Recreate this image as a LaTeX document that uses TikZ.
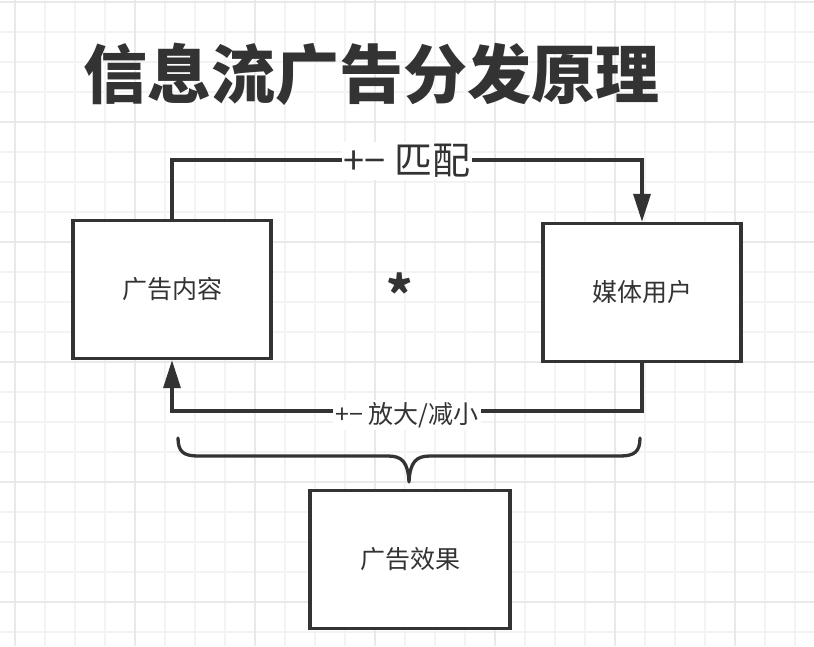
\documentclass[tikz,border=0pt]{standalone}
\usepackage{fontspec}
\newfontfamily\cjk{Noto Sans CJK SC}
\usetikzlibrary{arrows.meta}
\definecolor{ink}{HTML}{333333}
\definecolor{gridminor}{HTML}{F3F3F3}
\definecolor{gridmajor}{HTML}{E9E9E9}
\tikzset{
  boxnode/.style={draw=ink, line width=3.3pt, fill=white, minimum width=198pt, minimum height=138pt, inner sep=0pt, text=ink, font=\cjk\fontsize{25}{30}\selectfont},
  conn/.style={draw=ink, line width=3.3pt},
  tip/.style={-{Triangle[length=28pt,width=17pt]}},
  lbl/.style={fill=white, text=ink, inner sep=2pt},
}
\begin{document}
\begin{tikzpicture}[x=1pt,y=-1pt]
\useasboundingbox (0,0) rectangle (814,646);
\fill[white] (0,0) rectangle (814,646);
% grid
\foreach \x in {15,45,...,814} \draw[gridminor, line width=1.2pt] (\x,0) -- (\x,646);
\foreach \y in {2,32,...,646} \draw[gridminor, line width=1.2pt] (0,\y) -- (814,\y);
\foreach \x in {15,135,...,814} \draw[gridmajor, line width=1.6pt] (\x,0) -- (\x,646);
\foreach \y in {2,122,...,646} \draw[gridmajor, line width=1.6pt] (0,\y) -- (814,\y);

% title
\node[anchor=west, text=ink, inner sep=0pt, font=\cjk\bfseries\fontsize{64}{70}\selectfont] (title) at (83,74) {信息流广告分发原理};

% boxes
\node[boxnode] (content) at (172,289.5) {广告内容};
\node[boxnode] (user) at (642,292.5) {媒体用户};
\node[boxnode, minimum width=200pt] (effect) at (410,559.5) {广告效果};

% asterisk
\node[text=ink, inner sep=0pt, font=\cjk\bfseries\fontsize{50}{50}\selectfont] (star) at (400,293) {*};

% top connector
\coordinate (t1) at (172,160);
\coordinate (t2) at (642,160);
\draw[conn, tip] (content.north) -- (t1) -- node[lbl, font=\cjk\fontsize{38}{44}\selectfont, yshift=-1pt] (toplbl) {+− 匹配} (t2) -- (user.north);

% bottom connector
\coordinate (b1) at (642,411);
\coordinate (b2) at (172,411);
\draw[conn, tip] (user.south) -- (b1) -- node[lbl, font=\cjk\fontsize{25}{30}\selectfont, yshift=-4pt] (botlbl) {+− 放大/减小} (b2) -- (content.south);

% brace
\coordinate (brL) at (178,438);
\coordinate (brR) at (640,438);
\coordinate (brM) at (409,482);
\draw[conn, line cap=round, line join=round]
  (brL) .. controls (178,452) and (184,456) .. (198,456) -- (388,456)
  .. controls (402,456) and (408,462) .. (brM)
  .. controls (410,462) and (416,456) .. (430,456) -- (620,456)
  .. controls (634,456) and (640,452) .. (brR);
\end{tikzpicture}
\end{document}
